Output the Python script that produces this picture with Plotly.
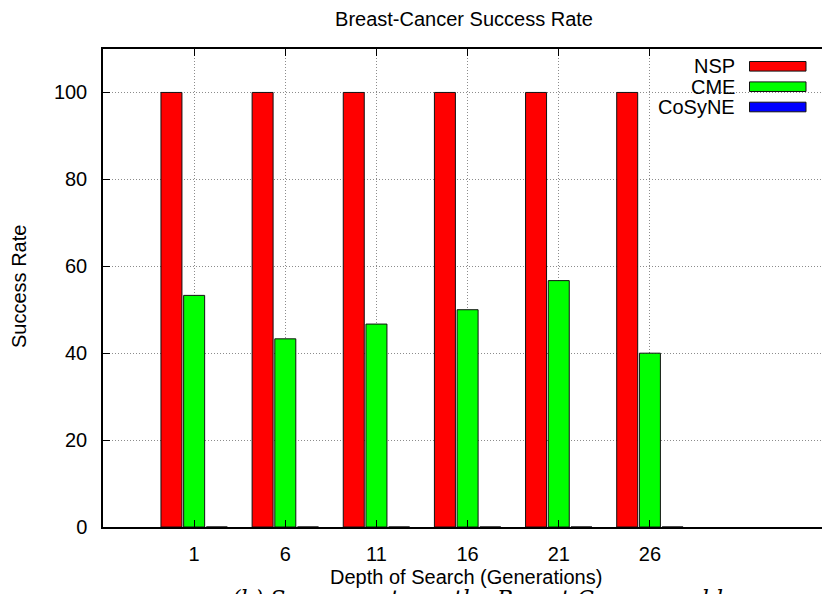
import plotly.graph_objects as go

# ---- data ----
generations = [1, 6, 11, 16, 21, 26]
series_names = ["NSP", "CME", "CoSyNE"]
nsp = [100, 100, 100, 100, 100, 100]
cme = [53.3, 43.3, 46.7, 50.0, 56.7, 40.0]
cosyne = [0, 0, 0, 0, 0, 0]
y_ticks = [0, 20, 40, 60, 80, 100]
title_text = "Breast-Cancer Success Rate"
x_label = "Depth of Search (Generations)"
y_label = "Success Rate"
caption_text = "(b) Success rate on the Breast-Cancer problem"

colors = ["#ff0000", "#00ff00", "#0000ff"]
values = [nsp, cme, cosyne]

W, H = 822, 594
L, T, B = 103, 49, 527   # plot area pixels
R = W
FONT = "Liberation Sans, Arial, Helvetica, sans-serif"

def px(xp):
    return (xp - L) / (R - L)

def py(yp):
    return (B - yp) / (B - T)

fig = go.Figure()
for name, vals, col in zip(series_names, values, colors):
    fig.add_trace(go.Bar(
        x=generations, y=vals, name=name,
        marker=dict(color=col, line=dict(color="#111111", width=1)),
        showlegend=False,
    ))

# custom legend (text right-aligned, swatch on the right, gnuplot style)
rows_y = [66.3, 86.7, 107.0]
for name, col, yc in zip(series_names, colors, rows_y):
    fig.add_shape(type="rect", xref="paper", yref="paper",
                  x0=px(749.5), x1=px(806), y0=py(yc - 4.8), y1=py(yc + 4.8),
                  fillcolor=col, line=dict(color="#111111", width=1))
    fig.add_annotation(xref="paper", yref="paper", x=px(737), y=py(yc),
                       xanchor="right", yanchor="middle", text=name,
                       showarrow=False, font=dict(family=FONT, size=20, color="black"))

# axis titles
fig.add_annotation(xref="paper", yref="paper", x=px(466), y=py(577),
                   xanchor="center", yanchor="middle", text=x_label, showarrow=False,
                   font=dict(family=FONT, size=20, color="black"))
fig.add_annotation(xref="paper", yref="paper", x=px(19), y=py(287),
                   xanchor="center", yanchor="middle", text=y_label, showarrow=False,
                   textangle=-90, font=dict(family=FONT, size=20, color="black"))
# caption (cut at bottom of the image, as in the reference)
fig.add_annotation(xref="paper", yref="paper", x=px(494), y=py(584),
                   xanchor="center", yanchor="top", text="<i>" + caption_text + "</i>",
                   showarrow=False,
                   font=dict(family="DejaVu Serif, Liberation Serif, serif", size=22, color="black"))

spacing_px = 91.15
fig.update_layout(
    width=W, height=H,
    margin=dict(l=L, r=W - R, t=T, b=H - B, pad=0),
    paper_bgcolor="white", plot_bgcolor="white",
    barmode="group", bargap=0.253, bargroupgap=0.075,
    title=dict(text=title_text, x=464 / W, xref="container", xanchor="center",
               y=1 - 19 / H, yref="container", yanchor="middle",
               font=dict(family=FONT, size=20, color="black")),
    font=dict(family=FONT, size=20, color="black"),
)
fig.update_xaxes(
    range=[-4, -4 + (R - L) / (spacing_px / 5)],
    tickvals=generations, ticktext=[str(g) for g in generations],
    showgrid=True, gridcolor="#8c8c8c", griddash="1px,2px", gridwidth=1,
    showline=True, linecolor="black", linewidth=1.5, mirror="ticks",
    ticks="inside", ticklen=7, tickcolor="black", tickwidth=1,
    zeroline=False, ticklabelstandoff=8,
    tickfont=dict(family=FONT, size=20, color="black"),
)
fig.update_yaxes(
    range=[0, 110], tickvals=y_ticks,
    showgrid=True, gridcolor="#8c8c8c", griddash="1px,2px", gridwidth=1,
    showline=True, linecolor="black", linewidth=1.5, mirror=False,
    ticks="inside", ticklen=7, tickcolor="black", tickwidth=1,
    zeroline=False, ticklabelstandoff=10,
    tickfont=dict(family=FONT, size=20, color="black"),
)

fig.write_html("out.html", config={"displayModeBar": False},
               post_script="document.body.style.margin='0';document.body.style.overflow='hidden';")
